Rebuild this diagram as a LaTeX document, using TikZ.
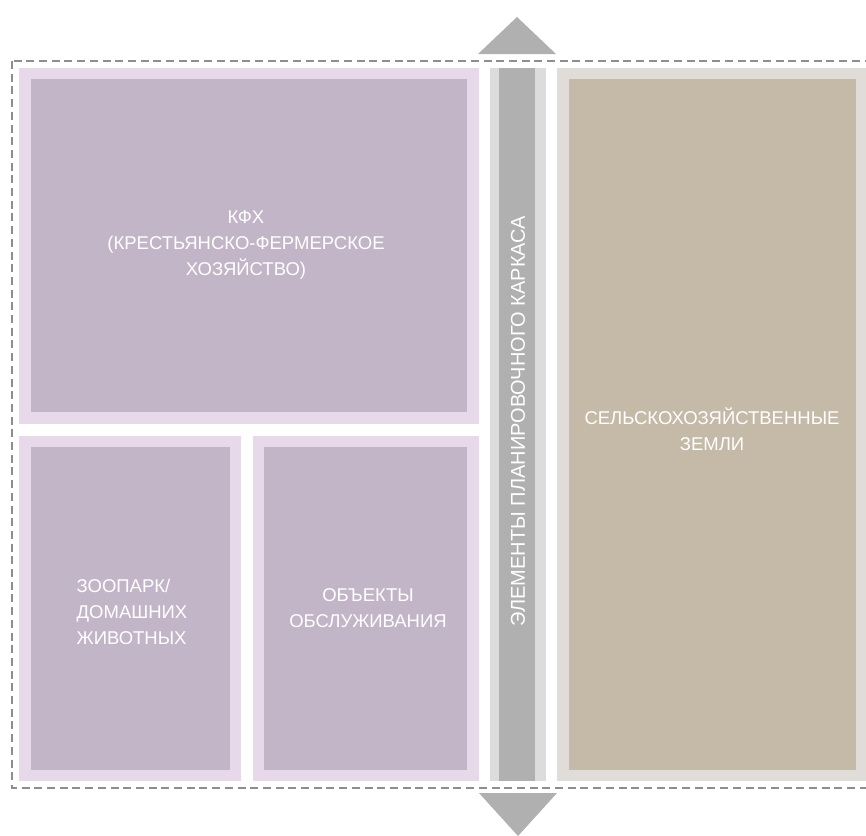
\documentclass[tikz,border=0pt]{standalone}
\usepackage{fontspec}
\setmainfont{Liberation Sans}
\usepackage{tikz}

\definecolor{pinkout}{HTML}{E8D9EA}
\definecolor{pinkin}{HTML}{C3B5C8}
\definecolor{greyout}{HTML}{DCDCDC}
\definecolor{greyin}{HTML}{B0B0B0}
\definecolor{beigeout}{HTML}{E0DDD8}
\definecolor{beigein}{HTML}{C5B9A7}
\definecolor{dashgrey}{HTML}{8E8E8E}

\tikzset{
  zonetext/.style={text=white, font=\fontsize{18.5}{26}\selectfont, align=center},
}

\begin{document}
\begin{tikzpicture}[x=1pt, y=-1pt]
\clip (0,0) rectangle (866,835);

% outer dashed frame
\draw[dashgrey, line width=1.8pt, dash pattern=on 8pt off 4.7pt] (12,61) rectangle (890,788);

% arrows up and down
\fill[greyin] (478,54) -- (517,17) -- (556,54) -- cycle;
\fill[greyin] (479,793) -- (518,836) -- (557,793) -- cycle;

% KFH block
\fill[pinkout] (19,68) rectangle (479,424);
\fill[pinkin] (31,79) rectangle (467,412);
\node[zonetext] (kfh) at (246,245) {КФХ\\(КРЕСТЬЯНСКО-ФЕРМЕРСКОЕ\\ХОЗЯЙСТВО)};

% zoo block
\fill[pinkout] (19,436) rectangle (241,781);
\fill[pinkin] (31,447) rectangle (230,770);
\node[zonetext, align=left] (zoo) at (132,612) {ЗООПАРК/\\ДОМАШНИХ\\ЖИВОТНЫХ};

% service block
\fill[pinkout] (253,436) rectangle (479,781);
\fill[pinkin] (264,447) rectangle (467,770);
\node[zonetext] (serv) at (368,608) {ОБЪЕКТЫ\\ОБСЛУЖИВАНИЯ};

% planning frame band
\fill[greyout] (490,68) rectangle (546,781);
\fill[greyin] (499,68) rectangle (535,781);
\node[zonetext, rotate=90, font=\fontsize{20}{26}\selectfont] (frame) at (518,421) {ЭЛЕМЕНТЫ ПЛАНИРОВОЧНОГО КАРКАСА};

% farmland block
\fill[beigeout] (557,68) rectangle (870,781);
\fill[beigein] (569,79) rectangle (856,770);
\node[zonetext] (land) at (712,429) {СЕЛЬСКОХОЗЯЙСТВЕННЫЕ\\ЗЕМЛИ};
\end{tikzpicture}
\end{document}
